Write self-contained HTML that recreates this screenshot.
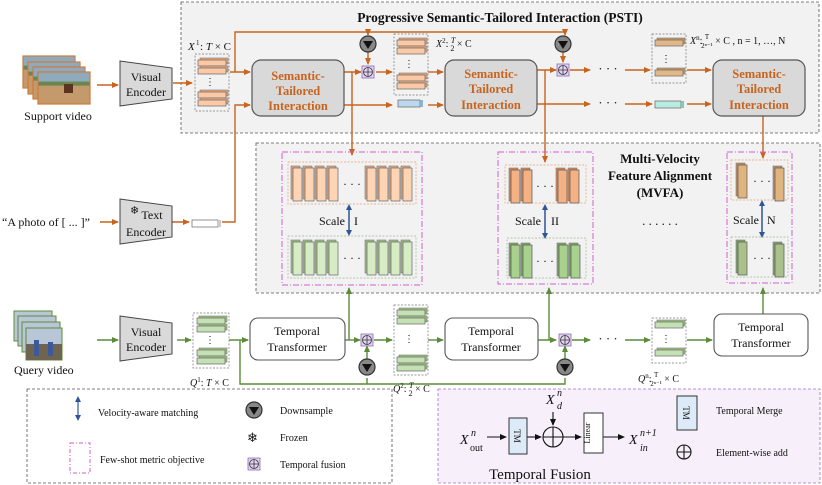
<!DOCTYPE html>
<html><head><meta charset="utf-8"><style>
html,body{margin:0;padding:0;background:#fff}
svg{display:block}
text{font-family:"Liberation Serif",serif;fill:#111}
.sti{font-weight:bold;fill:#c8641e;font-size:12.5px}
</style></head><body>
<svg width="822" height="485" viewBox="0 0 822 485" xmlns="http://www.w3.org/2000/svg">
<defs>
<marker id="ao" markerWidth="8" markerHeight="8" refX="6" refY="3" orient="auto" markerUnits="userSpaceOnUse"><path d="M0,0 L7,3 L0,6 z" fill="#c8641e"/></marker>
<marker id="ag" markerWidth="8" markerHeight="8" refX="6" refY="3" orient="auto" markerUnits="userSpaceOnUse"><path d="M0,0 L7,3 L0,6 z" fill="#5b8c3a"/></marker>
<marker id="ak" markerWidth="8" markerHeight="8" refX="6" refY="3" orient="auto" markerUnits="userSpaceOnUse"><path d="M0,0 L7,3 L0,6 z" fill="#111"/></marker>
<g id="hbo"><rect x="2" y="0" width="28" height="6" fill="#e8a77c" stroke="#777" stroke-width=".6"/><rect x="0" y="2" width="28" height="6" fill="#fbc9a5" stroke="#666" stroke-width=".7"/></g>
<g id="hbg"><rect x="2" y="0" width="28" height="6" fill="#9cc37e" stroke="#777" stroke-width=".6"/><rect x="0" y="2" width="28" height="6" fill="#c5e0b4" stroke="#666" stroke-width=".7"/></g>
<g id="hbn"><rect x="2" y="0" width="28" height="6" fill="#c89a63" stroke="#777" stroke-width=".6"/><rect x="0" y="2" width="28" height="6" fill="#e2b888" stroke="#666" stroke-width=".7"/></g>
<g id="vo"><rect x="0" y="0" width="9" height="33" fill="#e0a57c" stroke="#777" stroke-width=".6"/><rect x="2" y="2" width="9" height="33" fill="#fdd5b5" stroke="#666" stroke-width=".7"/></g>
<g id="vg"><rect x="0" y="0" width="9" height="33" fill="#9cbf84" stroke="#777" stroke-width=".6"/><rect x="2" y="2" width="9" height="33" fill="#d5ecc5" stroke="#666" stroke-width=".7"/></g>
<g id="vo2"><rect x="0" y="0" width="9" height="33" fill="#d8875a" stroke="#777" stroke-width=".6"/><rect x="2" y="2" width="9" height="33" fill="#f4b183" stroke="#555" stroke-width=".7"/></g>
<g id="vg2"><rect x="0" y="0" width="9" height="33" fill="#7eaa62" stroke="#777" stroke-width=".6"/><rect x="2" y="2" width="9" height="33" fill="#a9d18e" stroke="#555" stroke-width=".7"/></g>
<g id="vo3"><rect x="0" y="0" width="9" height="33" fill="#c09060" stroke="#777" stroke-width=".6"/><rect x="2" y="2" width="9" height="33" fill="#e0b47f" stroke="#555" stroke-width=".7"/></g>
<g id="vg3"><rect x="0" y="0" width="9" height="33" fill="#86a070" stroke="#777" stroke-width=".6"/><rect x="2" y="2" width="9" height="33" fill="#a9c08a" stroke="#555" stroke-width=".7"/></g>
<g id="ds"><circle r="8" fill="#888" stroke="#333" stroke-width="1.2"/><path d="M-5,-3 L5,-3 L0,5 z" fill="#111"/></g>
<g id="pl"><rect x="-6" y="-6" width="12" height="12" fill="#e4d4f4" stroke="#8c6bb0" stroke-width=".8"/><circle r="4.5" fill="none" stroke="#333" stroke-width=".8"/><path d="M-4.5,0 H4.5 M0,-4.5 V4.5" stroke="#333" stroke-width=".8"/></g>
<g id="sf"><rect x="0" y="0" width="52" height="32" fill="#c49a6c" stroke="#d07a3a" stroke-width="1.2"/><rect x="0.6" y="0.6" width="51" height="9" fill="#8fa9bd"/><rect x="0.6" y="9.6" width="51" height="4" fill="#6b8652"/></g>
</defs>

<!-- PSTI box -->
<rect x="181" y="2" width="638" height="131" fill="#f2f2f2" stroke="#555" stroke-dasharray="3,2" stroke-width=".8"/>
<text x="500" y="22" text-anchor="middle" font-weight="bold" font-size="13.5">Progressive Semantic-Tailored Interaction (PSTI)</text>
<!-- MVFA box -->
<rect x="256" y="143" width="564" height="150" fill="#f2f2f2" stroke="#555" stroke-dasharray="3,2" stroke-width=".8"/>
<text x="660" y="163" text-anchor="middle" font-weight="bold" font-size="13">Multi-Velocity</text>
<text x="660" y="180" text-anchor="middle" font-weight="bold" font-size="13">Feature Alignment</text>
<text x="660" y="197" text-anchor="middle" font-weight="bold" font-size="13">(MVFA)</text>
<text x="660" y="225" text-anchor="middle" font-size="13">. . . . . .</text>

<!-- support video -->
<use href="#sf" x="23" y="56"/><use href="#sf" x="28" y="62"/><use href="#sf" x="33" y="67"/><use href="#sf" x="38" y="72"/>
<rect x="64" y="84" width="9" height="9" fill="#5a3420"/>
<text x="58" y="120" text-anchor="middle" font-size="12">Support video</text>
<line x1="97" y1="85" x2="118" y2="85" stroke="#c8641e" stroke-width="1.4" marker-end="url(#ao)"/>
<!-- visual encoder S -->
<polygon points="120,61 172,68 172,99 120,106" fill="#d9d9d9" stroke="#444"/>
<text x="146" y="81" text-anchor="middle" font-size="12">Visual</text><text x="146" y="96" text-anchor="middle" font-size="12">Encoder</text>
<line x1="173" y1="83" x2="192" y2="83" stroke="#c8641e" stroke-width="1.4" marker-end="url(#ao)"/>
<!-- X1 -->
<rect x="195" y="54" width="34" height="57" fill="none" stroke="#777" stroke-dasharray="2,1.5" stroke-width=".7"/>
<use href="#hbo" x="198" y="58"/><use href="#hbo" x="198" y="66"/><use href="#hbo" x="198" y="90"/><use href="#hbo" x="198" y="98"/>
<text x="210" y="85" text-anchor="middle" font-size="10">⋮</text>
<text x="188" y="50" font-size="11" font-style="italic">X</text><text x="196" y="45" font-size="7">1</text><text x="200" y="50" font-size="11">: <tspan font-style="italic">T</tspan> × C</text>

<!-- orange lines -->
<g stroke="#c8641e" stroke-width="1.4" fill="none">
<path d="M230,72 H250" marker-end="url(#ao)"/>
<path d="M235,72 V32 H565 V35" marker-end="url(#ao)"/>
<path d="M368,32 V35" marker-end="url(#ao)"/>
<path d="M368,52 V64" marker-end="url(#ao)"/>
<path d="M344,72 H361" marker-end="url(#ao)"/>
<path d="M352,72 V155" marker-end="url(#ao)"/>
<path d="M376,72 H392" marker-end="url(#ao)"/>
<path d="M344,105 H392" marker-end="url(#ao)"/>
<path d="M222,222 H235 V105 H250" marker-end="url(#ao)"/>
<path d="M428,72 H443" marker-end="url(#ao)"/>
<path d="M428,105 H443" marker-end="url(#ao)"/>
<path d="M563,52 V62" marker-end="url(#ao)"/>
<path d="M537,70 H556" marker-end="url(#ao)"/>
<path d="M545,70 V162" marker-end="url(#ao)"/>
<path d="M570,70 H590" marker-end="url(#ao)"/>
<path d="M537,104 H590" marker-end="url(#ao)"/>
<path d="M625,70 H650" marker-end="url(#ao)"/>
<path d="M625,104 H652" marker-end="url(#ao)"/>
<path d="M687,70 H711" marker-end="url(#ao)"/>
<path d="M687,104 H711" marker-end="url(#ao)"/>
<path d="M763,116 V158" marker-end="url(#ao)"/>
<path d="M100,222 H118" marker-end="url(#ao)"/>
<path d="M172,222 H189" marker-end="url(#ao)"/>
</g>
<use href="#ds" x="368" y="44"/><use href="#pl" x="368" y="72"/>
<use href="#ds" x="563" y="44"/><use href="#pl" x="563" y="70"/>
<text x="608" y="73" text-anchor="middle" font-size="13">· · ·</text>
<text x="608" y="107" text-anchor="middle" font-size="13">· · ·</text>

<!-- STI boxes -->
<rect x="252" y="60" width="92" height="56" rx="9" fill="#d9d9d9" stroke="#555" stroke-width="1.2"/>
<text x="298" y="80" text-anchor="middle" class="sti">Semantic-</text><text x="298" y="95" text-anchor="middle" class="sti">Tailored</text><text x="298" y="110" text-anchor="middle" class="sti">Interaction</text>
<rect x="445" y="60" width="92" height="56" rx="9" fill="#d9d9d9" stroke="#555" stroke-width="1.2"/>
<text x="491" y="78" text-anchor="middle" class="sti">Semantic-</text><text x="491" y="93" text-anchor="middle" class="sti">Tailored</text><text x="491" y="109" text-anchor="middle" class="sti">Interaction</text>
<rect x="713" y="60" width="92" height="56" rx="9" fill="#d9d9d9" stroke="#555" stroke-width="1.2"/>
<text x="759" y="78" text-anchor="middle" class="sti">Semantic-</text><text x="759" y="93" text-anchor="middle" class="sti">Tailored</text><text x="759" y="109" text-anchor="middle" class="sti">Interaction</text>

<!-- X2 -->
<rect x="394" y="34" width="34" height="61" fill="none" stroke="#777" stroke-dasharray="2,1.5" stroke-width=".7"/>
<use href="#hbo" x="397" y="38"/><use href="#hbo" x="397" y="46"/><use href="#hbo" x="397" y="73"/><use href="#hbo" x="397" y="81"/>
<text x="409" y="67" text-anchor="middle" font-size="10">⋮</text>
<rect x="398" y="100" width="22" height="7" fill="#bdd7ee" stroke="#666" stroke-width=".7"/><rect x="420" y="100" width="3" height="7" fill="#8fb2d0"/>
<text x="436" y="47" font-size="10"><tspan font-style="italic">X</tspan><tspan font-size="7" dy="-4">2</tspan><tspan dy="4">: </tspan><tspan font-style="italic" font-size="8" dy="-4">T</tspan><tspan font-size="8" dx="-5" dy="8">2</tspan><tspan dy="-4"> × C</tspan></text>
<!-- Xn -->
<rect x="652" y="34" width="34" height="49" fill="none" stroke="#777" stroke-dasharray="2,1.5" stroke-width=".7"/>
<use href="#hbn" x="655" y="38"/><use href="#hbn" x="655" y="68"/>
<text x="666" y="62" text-anchor="middle" font-size="10">⋮</text>
<rect x="655" y="101" width="26" height="7" fill="#b8ece0" stroke="#666" stroke-width=".7"/><rect x="681" y="101" width="3" height="7" fill="#86c8b8"/>
<text x="690" y="44" font-size="10"><tspan font-style="italic">X</tspan><tspan font-size="7" dy="-4">n</tspan><tspan dy="4">: </tspan><tspan font-size="7" dy="-5">T</tspan><tspan font-size="7" dx="-8" dy="9">2ⁿ⁻¹</tspan><tspan dy="-4"> × C ,  n = 1, …, N</tspan></text>

<!-- text encoder -->
<text x="2" y="226" font-size="12">“A photo of [ ... ]”</text>
<polygon points="120,199 172,206 172,237 120,244" fill="#d9d9d9" stroke="#444"/>
<text x="130" y="214" font-size="11">❄</text>
<text x="152" y="219" text-anchor="middle" font-size="12">Text</text><text x="146" y="236" text-anchor="middle" font-size="12">Encoder</text>
<rect x="192" y="220" width="26" height="7" fill="#fff" stroke="#666" stroke-width=".7"/><rect x="218" y="220" width="3" height="7" fill="#ccc"/>

<!-- Scale I -->
<rect x="282" y="152" width="140" height="133" fill="none" stroke="#d05ed0" stroke-dasharray="6,2,1,2" stroke-width="1"/>
<rect x="288" y="162" width="128" height="42" fill="none" stroke="#e8a070" stroke-dasharray="2,1.5" stroke-width=".7"/>
<rect x="288" y="236" width="128" height="42" fill="none" stroke="#a0b890" stroke-dasharray="2,1.5" stroke-width=".7"/>
<use href="#vo" x="291" y="166"/><use href="#vo" x="303" y="166"/><use href="#vo" x="315" y="166"/><use href="#vo" x="327" y="166"/>
<use href="#vo" x="365" y="166"/><use href="#vo" x="377" y="166"/><use href="#vo" x="389" y="166"/><use href="#vo" x="401" y="166"/>
<text x="352" y="188" text-anchor="middle" font-size="12">· · ·</text>
<use href="#vg" x="291" y="240"/><use href="#vg" x="303" y="240"/><use href="#vg" x="315" y="240"/><use href="#vg" x="327" y="240"/>
<use href="#vg" x="365" y="240"/><use href="#vg" x="377" y="240"/><use href="#vg" x="389" y="240"/><use href="#vg" x="401" y="240"/>
<text x="352" y="262" text-anchor="middle" font-size="12">· · ·</text>
<text x="319" y="225" font-size="12">Scale</text><text x="354" y="225" font-size="12">I</text>
<!-- Scale II -->
<rect x="498" y="152" width="95" height="132" fill="none" stroke="#d05ed0" stroke-dasharray="6,2,1,2" stroke-width="1"/>
<rect x="505" y="165" width="81" height="38" fill="none" stroke="#e8a070" stroke-dasharray="2,1.5" stroke-width=".7"/>
<rect x="507" y="238" width="79" height="40" fill="none" stroke="#a0b890" stroke-dasharray="2,1.5" stroke-width=".7"/>
<use href="#vo2" x="509" y="168"/><use href="#vo2" x="521" y="168"/><use href="#vo2" x="556" y="168"/><use href="#vo2" x="568" y="168"/>
<text x="545" y="190" text-anchor="middle" font-size="12">· · ·</text>
<use href="#vg2" x="509" y="243"/><use href="#vg2" x="521" y="243"/><use href="#vg2" x="557" y="243"/><use href="#vg2" x="569" y="243"/>
<text x="545" y="265" text-anchor="middle" font-size="12">· · ·</text>
<text x="515" y="225" font-size="12">Scale</text><text x="551" y="225" font-size="12">II</text>
<!-- Scale N -->
<rect x="727" y="152" width="65" height="131" fill="none" stroke="#d05ed0" stroke-dasharray="6,2,1,2" stroke-width="1"/>
<rect x="731" y="160" width="57" height="40" fill="none" stroke="#e8a070" stroke-dasharray="2,1.5" stroke-width=".7"/>
<rect x="731" y="237" width="57" height="40" fill="none" stroke="#a0b890" stroke-dasharray="2,1.5" stroke-width=".7"/>
<use href="#vo3" x="736" y="163"/><use href="#vo3" x="773" y="166"/>
<text x="762" y="185" text-anchor="middle" font-size="12">· · ·</text>
<use href="#vg3" x="736" y="240"/><use href="#vg3" x="773" y="242"/>
<text x="762" y="262" text-anchor="middle" font-size="12">· · ·</text>
<text x="733" y="224" font-size="12">Scale</text><text x="767" y="224" font-size="12">N</text>
<g stroke="#2f5597" stroke-width="1.5">
<line x1="349" y1="206" x2="349" y2="234"/><line x1="545" y1="206" x2="545" y2="237"/><line x1="762" y1="202" x2="762" y2="236"/>
</g>
<g fill="#2f5597">
<path d="M346,210 L349,204 L352,210z"/><path d="M346,230 L349,236 L352,230z"/>
<path d="M542,210 L545,204 L548,210z"/><path d="M542,233 L545,239 L548,233z"/>
<path d="M759,206 L762,200 L765,206z"/><path d="M759,232 L762,238 L765,232z"/>
</g>

<!-- query video -->
<rect x="14" y="311" width="38" height="30" fill="#b8c6d8" stroke="#5b8c3a"/>
<rect x="18" y="316" width="38" height="30" fill="#b8c6d8" stroke="#5b8c3a"/>
<rect x="22" y="322" width="38" height="30" fill="#b8c6d8" stroke="#5b8c3a"/>
<rect x="26" y="328" width="36" height="32" fill="#b8c6d8" stroke="#5b8c3a"/>
<rect x="26" y="344" width="36" height="16" fill="#6e6450"/><rect x="34" y="340" width="5" height="16" fill="#3c5a9a"/><rect x="48" y="342" width="5" height="14" fill="#3c5a9a"/>
<text x="14" y="374" font-size="12">Query video</text>
<polygon points="120,316 172,323 172,354 120,361" fill="#d9d9d9" stroke="#444"/>
<text x="146" y="336" text-anchor="middle" font-size="12">Visual</text><text x="146" y="351" text-anchor="middle" font-size="12">Encoder</text>
<g stroke="#5b8c3a" stroke-width="1.4" fill="none">
<path d="M97,340 H118" marker-end="url(#ag)"/>
<path d="M177,340 H191" marker-end="url(#ag)"/>
<path d="M229,340 H248" marker-end="url(#ag)"/>
<path d="M240,340 V384 H565 V378" />
<path d="M367,384 V378"/>
<path d="M345,340 H360" marker-end="url(#ag)"/>
<path d="M349,340 V288" marker-end="url(#ag)"/>
<path d="M367,359 V346" marker-end="url(#ag)"/>
<path d="M374,340 H392" marker-end="url(#ag)"/>
<path d="M428,340 H443" marker-end="url(#ag)"/>
<path d="M538,340 H556" marker-end="url(#ag)"/>
<path d="M549,340 V288" marker-end="url(#ag)"/>
<path d="M565,359 V346" marker-end="url(#ag)"/>
<path d="M572,340 H590" marker-end="url(#ag)"/>
<path d="M625,340 H650" marker-end="url(#ag)"/>
<path d="M687,340 H712" marker-end="url(#ag)"/>
<path d="M763,314 V288" marker-end="url(#ag)"/>
</g>
<use href="#ds" x="367" y="367"/><use href="#pl" x="367" y="340"/>
<use href="#ds" x="565" y="367"/><use href="#pl" x="565" y="340"/>
<text x="608" y="343" text-anchor="middle" font-size="13">· · ·</text>
<rect x="193" y="313" width="36" height="55" fill="none" stroke="#777" stroke-dasharray="2,1.5" stroke-width=".7"/>
<use href="#hbg" x="197" y="316"/><use href="#hbg" x="197" y="324"/><use href="#hbg" x="197" y="348"/><use href="#hbg" x="197" y="356"/>
<text x="210" y="343" text-anchor="middle" font-size="10">⋮</text>
<text x="190" y="386" font-size="10"><tspan font-style="italic">Q</tspan><tspan font-size="7" dy="-4">1</tspan><tspan dy="4">: </tspan><tspan font-style="italic">T</tspan> × C</text>
<rect x="394" y="305" width="34" height="70" fill="none" stroke="#777" stroke-dasharray="2,1.5" stroke-width=".7"/>
<use href="#hbg" x="397" y="308"/><use href="#hbg" x="397" y="316"/><use href="#hbg" x="397" y="355"/><use href="#hbg" x="397" y="363"/>
<text x="409" y="342" text-anchor="middle" font-size="10">⋮</text>
<text x="393" y="392" font-size="10"><tspan font-style="italic">Q</tspan><tspan font-size="7" dy="-4">2</tspan><tspan dy="4">: </tspan><tspan font-style="italic" font-size="8" dy="-4">T</tspan><tspan font-size="8" dx="-5" dy="8">2</tspan><tspan dy="-4"> × C</tspan></text>
<rect x="652" y="318" width="34" height="45" fill="none" stroke="#777" stroke-dasharray="2,1.5" stroke-width=".7"/>
<use href="#hbg" x="655" y="320"/><use href="#hbg" x="655" y="348"/>
<text x="666" y="342" text-anchor="middle" font-size="10">⋮</text>
<text x="638" y="382" font-size="10"><tspan font-style="italic">Q</tspan><tspan font-size="7" dy="-4">n</tspan><tspan dy="4">: </tspan><tspan font-size="7" dy="-5">T</tspan><tspan font-size="7" dx="-8" dy="9">2ⁿ⁻¹</tspan><tspan dy="-4"> × C</tspan></text>
<rect x="250" y="318" width="95" height="42" rx="8" fill="#fff" stroke="#555" stroke-width="1.1"/>
<text x="297" y="335" text-anchor="middle" font-size="12">Temporal</text><text x="297" y="351" text-anchor="middle" font-size="12">Transformer</text>
<rect x="445" y="318" width="93" height="42" rx="8" fill="#fff" stroke="#555" stroke-width="1.1"/>
<text x="491" y="335" text-anchor="middle" font-size="12">Temporal</text><text x="491" y="351" text-anchor="middle" font-size="12">Transformer</text>
<rect x="714" y="314" width="94" height="42" rx="8" fill="#fff" stroke="#555" stroke-width="1.1"/>
<text x="761" y="331" text-anchor="middle" font-size="12">Temporal</text><text x="761" y="347" text-anchor="middle" font-size="12">Transformer</text>

<!-- legend -->
<rect x="27" y="389" width="365" height="94" fill="#fff" stroke="#555" stroke-dasharray="3,2" stroke-width=".8"/>
<line x1="78" y1="399" x2="78" y2="418" stroke="#2f5597" stroke-width="1.2"/>
<path d="M75,402 L78,396 L81,402z M75,415 L78,421 L81,415z" fill="#2f5597"/>
<text x="98" y="416" font-size="10">Velocity-aware matching</text>
<rect x="70" y="443" width="20" height="30" fill="none" stroke="#d05ed0" stroke-dasharray="4,2,1,2"/>
<text x="100" y="463" font-size="10">Few-shot metric objective</text>
<use href="#ds" x="254" y="410"/><text x="280" y="414" font-size="10">Downsample</text>
<text x="247" y="442" font-size="13">❄</text><text x="280" y="441" font-size="10">Frozen</text>
<use href="#pl" x="254" y="464"/><text x="280" y="468" font-size="10">Temporal fusion</text>

<!-- temporal fusion -->
<rect x="438" y="389" width="382" height="94" fill="#f7f0fb" stroke="#a070c8" stroke-dasharray="3,2" stroke-width=".8"/>
<text x="460" y="444" font-size="14" font-style="italic">X</text><text x="471" y="436" font-size="10" font-style="italic">n</text><text x="470" y="451" font-size="10">out</text>
<g stroke="#111" stroke-width="1.1" fill="none">
<path d="M487,437 H506" marker-end="url(#ak)"/>
<path d="M527,437 H541" marker-end="url(#ak)"/>
<path d="M553,412 V425" marker-end="url(#ak)"/>
<path d="M563,437 H581" marker-end="url(#ak)"/>
<path d="M603,437 H624" marker-end="url(#ak)"/>
<circle cx="553" cy="437" r="10"/><path d="M543,437 H563 M553,427 V447"/>
<circle cx="684" cy="452" r="7"/><path d="M677,452 H691 M684,445 V459"/>
</g>
<rect x="509" y="418" width="18" height="36" fill="#ddeaf7" stroke="#333"/>
<text transform="translate(514,436) rotate(90)" text-anchor="middle" font-size="9">TM</text>
<rect x="584" y="413" width="19" height="40" fill="#fff" stroke="#333"/>
<text transform="translate(590,433) rotate(-90)" text-anchor="middle" font-size="8">Linear</text>
<text x="546" y="404" font-size="14" font-style="italic">X</text><text x="557" y="396" font-size="10" font-style="italic">n</text><text x="557" y="409" font-size="10" font-style="italic">d</text>
<text x="629" y="444" font-size="14" font-style="italic">X</text><text x="640" y="436" font-size="10" font-style="italic">n+1</text><text x="640" y="451" font-size="10" font-style="italic">in</text>
<rect x="677" y="396" width="20" height="34" fill="#ddeaf7" stroke="#333"/>
<text transform="translate(683,413) rotate(90)" text-anchor="middle" font-size="9">TM</text>
<text x="716" y="414" font-size="10">Temporal Merge</text>
<text x="716" y="456" font-size="10">Element-wise add</text>
<text x="540" y="479" text-anchor="middle" font-size="15">Temporal Fusion</text>
</svg>
</body></html>
